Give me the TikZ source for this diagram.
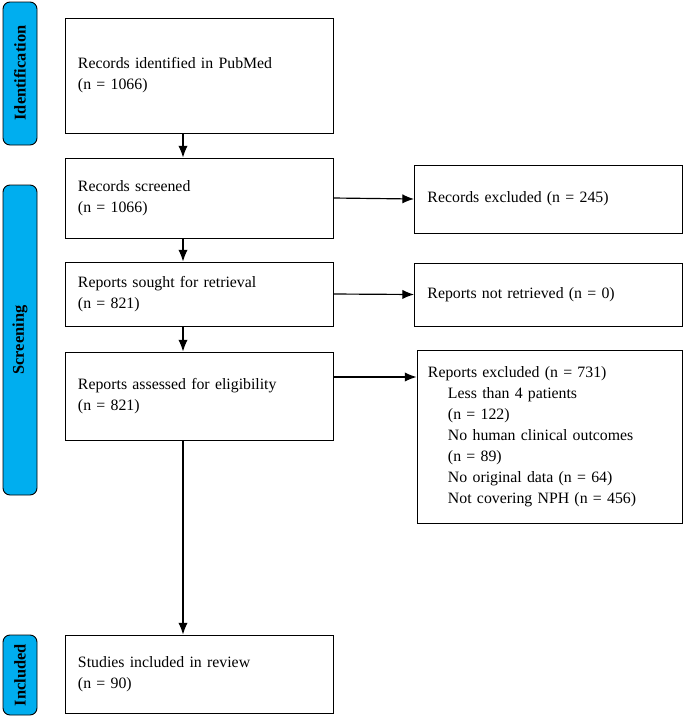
\documentclass[tikz,border=0pt]{standalone}
\usepackage{fontspec}
\setmainfont{Liberation Serif}
\usetikzlibrary{arrows.meta}
\definecolor{sideblue}{RGB}{0,174,239}
\begin{document}
\begin{tikzpicture}[x=0.03cm,y=-0.03cm,
  box/.style={draw,thick,rectangle,align=left,inner xsep=0.39cm,text width=7.26cm,font=\fontsize{13.5}{18}\selectfont},
  side/.style={draw,thick,rounded corners=6pt,fill=sideblue},
  sidetext/.style={rotate=90,font=\bfseries\fontsize{14}{18}\selectfont},
  arr/.style={-{Latex[length=10pt,width=8pt]},semithick,line width=1pt}]
\useasboundingbox (0,0) rectangle (685,718);

% side bars
\draw[side] (3,2) rectangle (37,145);
\node[sidetext] (lid) at (20,73) {Identification};
\draw[side] (3,185) rectangle (37,495);
\node[sidetext] (lscr) at (20,340) {Screening};
\draw[side] (3,635) rectangle (37,715);
\node[sidetext] (linc) at (20,675) {Included};

% left column
\node[box,minimum height=3.45cm] (ident) at (199,75.5) {Records identified in PubMed\\(n = 1066)\\[1.2cm]};
\node[box,minimum height=2.4cm] (scr) at (199,198) {Records screened\\(n = 1066)\\[0.6cm]};
\node[box,minimum height=1.92cm] (sought) at (199,294) {Reports sought for retrieval\\(n = 821)};
\node[box,minimum height=2.64cm] (assess) at (199,396) {Reports assessed for eligibility\\(n = 821)\\[0.9cm]};
\node[box,minimum height=2.34cm] (incl) at (199,674) {Studies included in review\\(n = 90)\\[0.5cm]};

% right column
\node[box,minimum height=2.04cm] (excl) at (548.5,199) {Records excluded (n = 245)};
\node[box,minimum height=1.89cm] (notret) at (548.5,294.5) {Reports not retrieved (n = 0)};
\node[box,minimum height=5.19cm,inner xsep=0.33cm,text width=7.29cm] (rexcl) at (549.5,436.5)
  {Reports excluded (n = 731)\\
   \hspace*{0.6cm}Less than 4 patients\\\hspace*{0.6cm}(n = 122)\\
   \hspace*{0.6cm}No human clinical outcomes\\\hspace*{0.6cm}(n = 89)\\
   \hspace*{0.6cm}No original data (n = 64)\\\hspace*{0.6cm}Not covering NPH (n = 456)};

% arrows
\draw[arr] ([xshift=-0.48cm]ident.south) -- ([xshift=-0.48cm]scr.north);
\draw[arr] ([xshift=-0.48cm]scr.south) -- ([xshift=-0.48cm]sought.north);
\draw[arr] ([xshift=-0.48cm]sought.south) -- ([xshift=-0.48cm]assess.north);
\draw[arr] ([xshift=-0.48cm]assess.south) -- ([xshift=-0.48cm]incl.north);
\draw[arr] (scr.east) -- (excl.west);
\draw[arr] (sought.east) -- (notret.west);
\draw[arr] (assess.east |- 0,377) -- (rexcl.west |- 0,377);
\end{tikzpicture}
\end{document}
